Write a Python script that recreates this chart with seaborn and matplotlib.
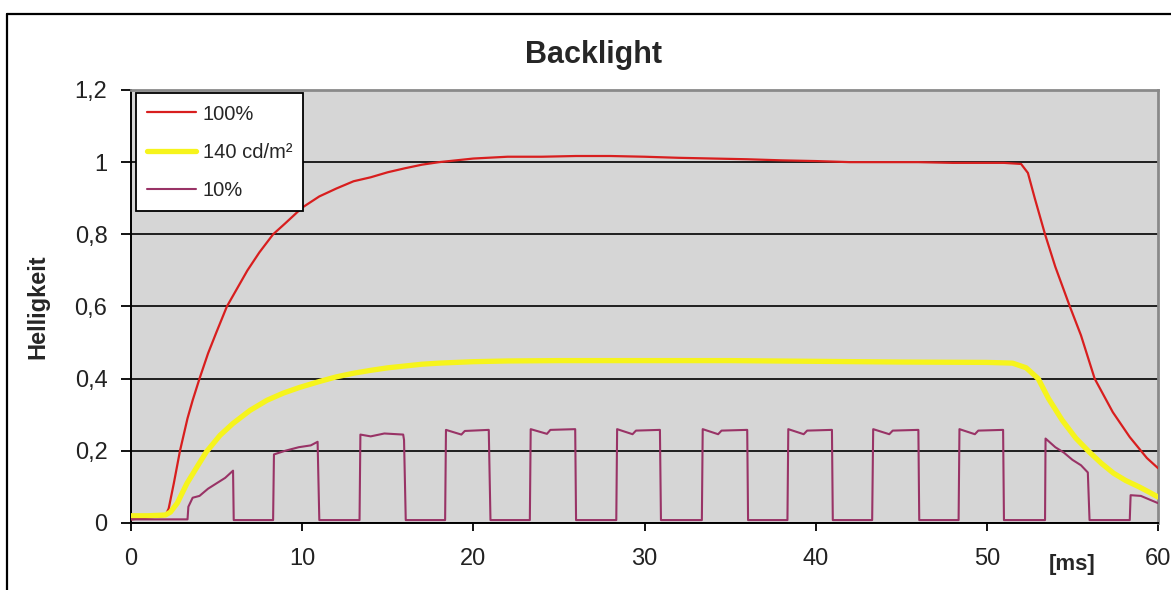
import numpy as np
import pandas as pd
import seaborn as sns
import matplotlib.pyplot as plt
from matplotlib.lines import Line2D

# ---- data (time in ms, relative brightness) ----
t_full = [0, 1, 2, 2.2, 2.5, 2.86, 3.3, 3.6, 4.0, 4.5, 5.0, 5.6, 6.2, 6.8, 7.5, 8.3, 9, 10,
          11, 12, 13, 14, 15, 16, 17, 18, 19, 20, 22, 24, 26, 28, 30, 32, 34, 36, 38, 40,
          42, 44, 46, 48, 50, 51, 52, 52.4, 52.8, 53.4, 54, 54.85, 55.5, 56.3, 57.36,
          58.35, 59.35, 60]
v_full = [0.01, 0.015, 0.02, 0.04, 0.11, 0.2, 0.29, 0.34, 0.4, 0.47, 0.53, 0.6, 0.65, 0.7,
          0.75, 0.8, 0.83, 0.874, 0.905, 0.927, 0.947, 0.958, 0.972, 0.983, 0.993, 1.0,
          1.005, 1.01, 1.015, 1.015, 1.017, 1.017, 1.015, 1.012, 1.01, 1.008, 1.005, 1.003,
          1.0, 1.0, 1.0, 0.998, 0.998, 0.998, 0.995, 0.97, 0.9, 0.8, 0.71, 0.6, 0.52, 0.4,
          0.307, 0.238, 0.18, 0.152]

t_140 = [0, 1, 2, 2.3, 2.7, 3.27, 3.85, 4.4, 5.2, 5.96, 6.95, 7.94, 8.9, 9.87, 11, 12, 13,
         14, 15, 16, 17, 18, 20, 22, 25, 30, 35, 40, 45, 50, 51.5, 52.3, 53.0, 53.6, 54.4,
         55.2, 56.0, 56.7, 57.4, 58.1, 58.9, 59.5, 60]
v_140 = [0.02, 0.02, 0.022, 0.03, 0.055, 0.11, 0.155, 0.197, 0.243, 0.276, 0.312, 0.34,
         0.36, 0.376, 0.392, 0.405, 0.415, 0.423, 0.43, 0.435, 0.44, 0.443, 0.447, 0.449,
         0.45, 0.45, 0.45, 0.448, 0.446, 0.445, 0.443, 0.43, 0.4, 0.345, 0.285, 0.235,
         0.196, 0.165, 0.138, 0.118, 0.1, 0.085, 0.072]

t_10 = [0, 3.3, 3.35, 3.6, 4.0, 4.5, 5.0, 5.5, 5.96, 6.0, 8.3, 8.35, 9.0, 9.8, 10.5, 10.9,
        11.0, 13.35, 13.4, 14.0, 14.8, 15.9, 15.95, 16.05, 18.35, 18.4, 19.3, 19.5, 20.9,
        21.0, 23.3, 23.35, 24.3, 24.5, 25.95, 26.0, 28.35, 28.4, 29.3, 29.5, 30.9, 30.96,
        33.35, 33.4, 34.3, 34.5, 36.0, 36.05, 38.35, 38.4, 39.3, 39.5, 40.95, 41.0, 43.3,
        43.36, 44.3, 44.5, 46.0, 46.05, 48.35, 48.4, 49.3, 49.5, 50.95, 51.0, 53.4, 53.43,
        54.0, 54.5, 55.0, 55.5, 55.9, 56.0, 58.35, 58.4, 59.0, 59.5, 60]
v_10 = [0.01, 0.01, 0.045, 0.07, 0.075, 0.095, 0.11, 0.125, 0.145, 0.008, 0.008, 0.19,
        0.2, 0.21, 0.215, 0.225, 0.008, 0.008, 0.245, 0.24, 0.248, 0.245, 0.23, 0.008,
        0.008, 0.258, 0.245, 0.255, 0.258, 0.008, 0.008, 0.26, 0.247, 0.258, 0.26, 0.008,
        0.008, 0.26, 0.246, 0.256, 0.258, 0.008, 0.008, 0.26, 0.246, 0.256, 0.258, 0.008,
        0.008, 0.26, 0.246, 0.256, 0.258, 0.008, 0.008, 0.26, 0.246, 0.256, 0.258, 0.008,
        0.008, 0.26, 0.246, 0.256, 0.258, 0.008, 0.008, 0.234, 0.21, 0.195, 0.175, 0.16,
        0.14, 0.008, 0.008, 0.077, 0.075, 0.065, 0.055]

series_names = ["100%", "140 cd/m²", "10%"]
x_ticks = [0, 10, 20, 30, 40, 50, 60]
y_ticks = [0, 0.2, 0.4, 0.6, 0.8, 1.0, 1.2]
y_tick_labels = ["0", "0,2", "0,4", "0,6", "0,8", "1", "1,2"]

# ---- styling ----
sns.set_style("white")
plt.rcParams.update({
    'font.family': ['Liberation Sans', 'DejaVu Sans'],
    'axes.edgecolor': 'black',
})

colors = {"100%": "#d81e1e", "140 cd/m²": "#f6f41c", "10%": "#993366"}
widths = {"100%": 1.6, "140 cd/m²": 3.8, "10%": 1.5}

fig = plt.figure(figsize=(11.71, 5.90), dpi=100)
ax = fig.add_axes([0.1119, 0.1136, 0.877, 0.7339])
ax.set_facecolor('#d6d6d6')

frames = [
    pd.DataFrame({'t': t_full, 'v': v_full}),
    pd.DataFrame({'t': t_140, 'v': v_140}),
    pd.DataFrame({'t': t_10, 'v': v_10}),
]
for i, (name, df) in enumerate(zip(series_names, frames)):
    sns.lineplot(data=df, x='t', y='v', ax=ax, color=colors[name], linewidth=widths[name],
                 estimator=None, sort=False, label=name, zorder=3 + i)

ax.set_xlim(0, 60)
ax.set_ylim(0, 1.2)
ax.set_xticks(x_ticks)
ax.set_yticks(y_ticks)
ax.set_yticklabels(y_tick_labels)
ax.set_xlabel("")
ax.set_ylabel("")

ax.set_axisbelow(True)
ax.yaxis.grid(True, color='black', linewidth=1.2)
ax.xaxis.grid(False)

for side in ['left', 'bottom']:
    ax.spines[side].set_color('black')
    ax.spines[side].set_linewidth(1.4)
for side in ['top', 'right']:
    ax.spines[side].set_color('#8a8a8a')
    ax.spines[side].set_linewidth(2)

ax.tick_params(axis='y', direction='out', length=7, width=1.3, color='black',
               labelsize=17, labelcolor='#222222', pad=10, left=True)
ax.tick_params(axis='x', direction='out', length=6, width=1.3, color='black',
               labelsize=17, labelcolor='#222222', pad=12, bottom=True)

leg = ax.legend(loc='upper left', bbox_to_anchor=(0.005, 0.992), fontsize=14.5,
                frameon=True, fancybox=False, edgecolor='black', framealpha=1,
                borderpad=0.55, labelspacing=0.95, handlelength=2.4, handletextpad=0.35,
                borderaxespad=0)
leg.get_frame().set_linewidth(1.3)

fig.text(0.507, 0.907, "Backlight", ha='center', va='center', fontsize=22, fontweight='bold')
fig.text(0.032, 0.48, "Helligkeit", ha='center', va='center', rotation=90,
         fontsize=17, fontweight='bold')
fig.text(0.9155, 0.0425, "[ms]", ha='center', va='center', fontsize=16, fontweight='bold')

# chart-area frame (only the top and left edges are visible in the crop)
fig.add_artist(Line2D([0.0062, 1.0], [0.9763, 0.9763], transform=fig.transFigure,
                      color='black', linewidth=1.6))
fig.add_artist(Line2D([0.0062, 0.0062], [0.0, 0.9763], transform=fig.transFigure,
                      color='black', linewidth=1.6))

fig.savefig("out.png", dpi=100)
